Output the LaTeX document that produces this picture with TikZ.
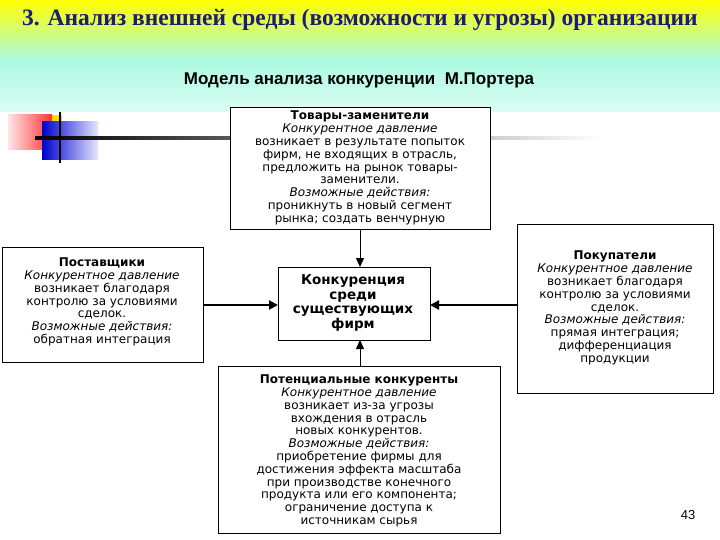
\documentclass[tikz,border=0pt]{standalone}
\usepackage{fontspec}
\setmainfont{DejaVu Sans}
\newfontfamily\titlefont{Liberation Serif}
\newfontfamily\subfont{Liberation Sans}
\usetikzlibrary{arrows.meta}
\definecolor{navy}{RGB}{30,30,110}
\definecolor{yel}{RGB}{255,255,0}
\definecolor{cy}{RGB}{170,250,225}
\tikzset{
 box/.style={draw=black,line width=0.8pt,fill=white,inner sep=0pt},
 txt/.style={font=\fontsize{12}{12.8}\selectfont,align=center,inner sep=0pt},
 thick arr/.style={line width=2.2pt,-{Triangle[length=9pt,width=9pt]}},
 thin arr/.style={line width=0.8pt,-{Triangle[length=9pt,width=8pt]}},
}
\begin{document}
\begin{tikzpicture}[x=1pt,y=-1pt]
\useasboundingbox (0,0) rectangle (720,540);
\fill[white] (0,0) rectangle (720,540);
\shade[top color=yel,bottom color=cy] (0,0) rectangle (720,60);
\shade[top color=cy,bottom color=cy!40] (0,60) rectangle (720,112);
\node[font=\titlefont\bfseries\fontsize{23.5}{25}\selectfont,text=navy] (title) at (360,20) {3. Анализ внешней среды (возможности и угрозы) организации};
\node[font=\subfont\bfseries\fontsize{17}{19}\selectfont] (sub) at (359,80) {Модель анализа конкуренции\ \ М.Портера};
% decoration
\shade[left color=red!10,right color=red!80] (8,115) rectangle (52,150);
\fill[yellow!80!orange] (52,115) rectangle (62,122);
\shade[left color=blue!80!black,right color=blue!10] (42,122) rectangle (98,160);
\shade[left color=black,right color=white] (35,137) rectangle (600,139.5);
\fill[black] (58.5,112) rectangle (61,163);
% boxes
\draw[box] (230,107) rectangle (490,229);
\node[txt] (top) at (360,168) {\textbf{Товары-заменители}\\ \textit{Конкурентное давление}\\ возникает в результате попыток\\ фирм, не входящих в отрасль,\\ предложить на рынок товары-\\ заменители.\\ \textit{Возможные действия:}\\ проникнуть в новый сегмент\\ рынка; создать венчурную};
\coordinate (topb) at (360,229);
\draw[box] (2,247) rectangle (203,362);
\node[txt] (left) at (102,302) {\textbf{Поставщики}\\ \textit{Конкурентное давление}\\ возникает благодаря\\ контролю за условиями\\ сделок.\\ \textit{Возможные действия:}\\ обратная интеграция};
\draw[box] (278,267) rectangle (430,340);
\node[txt,font=\bfseries\fontsize{13.5}{14.5}\selectfont] (center) at (353,303) {Конкуренция\\ среди\\ существующих\\ фирм};
\draw[box] (517,224) rectangle (713,393);
\node[txt] (right) at (615,308) {\textbf{Покупатели}\\ \textit{Конкурентное давление}\\ возникает благодаря\\ контролю за условиями\\ сделок.\\ \textit{Возможные действия:}\\ прямая интеграция;\\ дифференциация\\ продукции};
\draw[box] (218,366) rectangle (500,533);
\node[txt] (bottom) at (359,451) {\textbf{Потенциальные конкуренты}\\ \textit{Конкурентное давление}\\ возникает из-за угрозы\\ вхождения в отрасль\\ новых конкурентов.\\ \textit{Возможные действия:}\\ приобретение фирмы для\\ достижения эффекта масштаба\\ при производстве конечного\\ продукта или его компонента;\\ ограничение доступа к\\ источникам сырья};
\coordinate (cT) at (360,267); \coordinate (cB) at (360,340);
\coordinate (cL) at (278,305); \coordinate (cR) at (430,305);
\coordinate (lR) at (203,305); \coordinate (rL) at (517,305);
\coordinate (botT) at (360,366);
\draw[thin arr] (topb) -- (cT);
\draw[thin arr] (botT) -- (cB);
\draw[thick arr] (lR) -- (cL);
\draw[thick arr] (rL) -- (cR);
\node[font=\subfont\fontsize{13}{15}\selectfont] (num) at (688,515) {43};
\end{tikzpicture}
\end{document}
